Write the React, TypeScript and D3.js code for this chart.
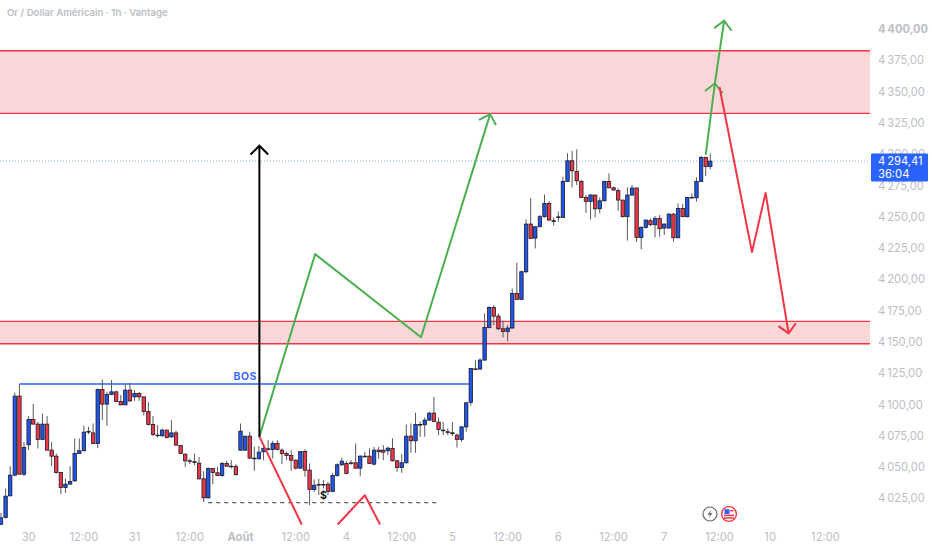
import React, { useEffect, useRef } from "react";
import * as d3 from "d3";

// open, high, low, close per hourly bar
const ohlc: number[][] = [
  [4004.2,4013.3,4003.4,4009.3],[4009.6,4032.7,4008.8,4026.6],[4026.9,4050.6,4026.6,4043.4],[4043.4,4109.5,4042.6,4106.6],
  [4106.6,4116.2,4044.2,4044.2],[4044.2,4070,4042.6,4065.5],[4067.7,4090.6,4063.4,4087.9],[4087.9,4100.2,4084.2,4084.2],
  [4084.2,4086,4064.7,4071.9],[4071.9,4092.7,4071.4,4084.2],[4084.2,4090.6,4063.4,4063.4],[4063.4,4070,4050.6,4058.6],
  [4058.6,4060.7,4044.7,4045.5],[4045.5,4045.5,4028.2,4033.5],[4033.5,4040.7,4029.3,4036.2],[4036.2,4050.6,4036.2,4038.4],
  [4038.9,4072.7,4038,4060.7],[4060.7,4072.7,4060.7,4062.9],[4062.9,4082.9,4062.9,4077.8],[4077.8,4082,4076.2,4078.3],
  [4077.2,4084.7,4068.2,4068.7],[4068.7,4112.7,4065,4111.9],[4111.9,4119.9,4087.4,4100.2],[4100.2,4110,4082.9,4107.9],
  [4107.9,4119.4,4107.4,4110],[4110,4110.8,4101.8,4102.3],[4102.3,4107.4,4099.4,4099.6],[4099.6,4116.2,4099.4,4111.4],
  [4111.4,4117.2,4102,4102.8],[4106,4111.4,4102.8,4108.7],[4108.7,4110,4102.8,4106],[4106,4106,4091.1,4094.3],
  [4094.3,4102,4083.1,4083.9],[4083.9,4090.6,4074.6,4075.9],[4075.4,4083.4,4073.5,4075],[4074.9,4080.7,4074,4079.4],
  [4079.4,4079.9,4072.7,4073.5],[4074,4087.4,4073.5,4077.2],[4077.2,4078.9,4067.1,4067.4],[4067.1,4067.1,4060.2,4060.7],
  [4060.2,4060.7,4050,4054.9],[4054.9,4056.7,4052.2,4054.4],[4054.2,4060.7,4051.4,4053.6],[4053,4058,4039.9,4040.5],
  [4040.5,4046.6,4022,4025.3],[4025.3,4049.5,4024.7,4048.7],[4048.7,4048.7,4036.2,4045.5],[4045.3,4050,4042.6,4043.1],
  [4043.1,4054,4042,4052.7],[4052.7,4054.9,4050,4050.6],[4050.6,4055.4,4048.7,4050.2],[4050.4,4052.2,4043.4,4043.7],
  [4063.4,4084.7,4062.9,4078.6],[4063.4,4074.6,4062.9,4074.6],[4074.6,4078.1,4056.5,4057],[4057,4066.1,4046.9,4056.5],
  [4056.5,4066.6,4056,4061.8],[4062.1,4067.4,4055.4,4064.8],[4064.5,4071.4,4062.9,4064],[4064,4070.9,4056.7,4068.8],
  [4068.8,4071.4,4063.4,4064],[4063.4,4064.8,4052.2,4060.8],[4060.8,4062.1,4055.4,4059.2],[4059.2,4063.4,4046.9,4055.4],
  [4055.4,4056,4048,4049],[4049,4062.4,4048.5,4062.4],[4062.4,4064,4042.1,4047.4],[4047.4,4052.8,4019.5,4032],
  [4032,4040,4030.1,4035.4],[4036,4040.5,4027.5,4035.5],[4036,4039.4,4032.8,4035.5],[4036.2,4038,4027.5,4030.4],
  [4030.4,4045.3,4029.8,4043.2],[4043.2,4052.8,4042.1,4051.7],[4051.7,4057.5,4050.6,4054.6],[4052.8,4054.6,4044.2,4044.8],
  [4053.3,4055.4,4051.7,4052.8],[4053.3,4068.8,4048.7,4049],[4049,4059.4,4042.6,4058.6],[4058.6,4062.1,4057.5,4058.1],
  [4058.6,4064.8,4052.2,4052.8],[4052.2,4066.1,4051.4,4063.4],[4063.4,4066.1,4056.5,4062.1],[4063.4,4067.4,4055.4,4061.8],
  [4062.9,4066.1,4059.4,4065],[4064.8,4072.8,4054.3,4054.9],[4054.9,4055.4,4046.1,4049.6],[4049.6,4060.2,4045.3,4053.3],
  [4053.3,4083.9,4052.8,4074.6],[4074.6,4084.7,4061.3,4070.9],[4070.9,4093.3,4061.3,4083.9],[4083.9,4086.1,4074.1,4083.4],
  [4083.7,4089.5,4074.1,4087.4],[4087.4,4094.1,4086.9,4093],[4093,4106,4086,4086.3],[4085.8,4089.5,4075.4,4080],
  [4079.4,4086,4075.4,4078.9],[4078.1,4080.7,4075.4,4077.6],[4077.3,4086,4074.6,4076.6],[4075.4,4076.7,4065.5,4071.9],
  [4071.9,4082.6,4070,4082],[4082,4102,4078.1,4101.2],[4101.5,4129,4099,4128.7],[4128.4,4135.4,4127.4,4128],
  [4128.2,4136.7,4127.9,4135.4],[4135.4,4172.7,4134.8,4161.5],[4161.5,4178.5,4160.7,4177.5],[4177.5,4179.3,4163.3,4170.5],
  [4170.5,4172.7,4159.3,4160.4],[4160.4,4166.8,4153.5,4158.3],[4158.3,4163.3,4150.3,4161],[4161,4192.6,4160.7,4188.7],
  [4188.7,4213.4,4183.9,4183.9],[4183.9,4206.8,4183.9,4206],[4206,4247.8,4204.7,4244.1],[4244.1,4264.9,4232.4,4232.6],
  [4232.9,4242,4224.6,4242],[4242,4251.3,4241.4,4250],[4250,4267.8,4249.4,4260.6],[4260.6,4262.5,4246.8,4247.3],
  [4246.8,4249.4,4242.8,4246.2],[4249.4,4254.2,4246,4249.9],[4249.4,4281.9,4249.2,4278.2],[4278.2,4300.6,4277.7,4294.7],
  [4294.7,4302.7,4273.4,4286.7],[4286.2,4303.8,4275.3,4278.7],[4278.2,4279.3,4264.9,4265.4],[4265.4,4267.3,4253.1,4262.2],
  [4262.2,4268,4247.8,4267.3],[4267.3,4267.3,4249.4,4256.3],[4256.3,4265.4,4252.6,4262.7],[4262.7,4278.7,4262.2,4278.2],
  [4278.2,4284.6,4272.6,4273.1],[4273.1,4273.9,4270.8,4271.3],[4270.8,4272.6,4254.7,4263.3],[4263.3,4263.3,4249.4,4250],
  [4250,4273.4,4230.8,4267.3],[4267.3,4275.3,4266.5,4272.9],[4272.9,4273.4,4229.7,4233.4],[4233.4,4242.5,4223.8,4241.4],
  [4241.4,4247.8,4240.6,4247.3],[4246.8,4248.6,4242.5,4243.6],[4243.6,4250.5,4233.4,4248.6],[4248.6,4251.3,4234,4240.4],
  [4240.9,4244.6,4235.3,4244.1],[4240.9,4253.1,4240.6,4252],[4252,4253.1,4230,4233.2],[4233.2,4260.6,4232.6,4256.6],
  [4256.6,4260.1,4250,4250],[4250,4265.9,4249.4,4265.4],[4265.4,4268.6,4264.6,4265],[4265.1,4281.4,4262,4278.2],
  [4278.2,4298.5,4277.9,4297.4],[4297.4,4297.9,4282.5,4290.2],[4290.2,4300.6,4287.8,4294.41],
];

const priceTicks = [4400, 4375, 4350, 4325, 4300, 4275, 4250, 4225, 4200, 4175, 4150, 4125, 4100, 4075, 4050, 4025];
const timeTicks: [number, string][] = [
  [6, "30"], [18, "12:00"], [29, "31"], [41, "12:00"], [52, "Août"], [64, "12:00"], [75, "4"], [87, "12:00"],
  [98, "5"], [110, "12:00"], [121, "6"], [133, "12:00"], [144, "7"], [156, "12:00"], [167, "10"], [179, "12:00"],
];

const zones = [[4382.6, 4332.6], [4166.3, 4148.4]];
const lastPrice = 4294.41;
const countdown = "36:04";
const bosPrice = 4116.2;
const sweepPrice = 4021.4;

// drawings: [bar index, price]; heads lists the vertices that carry an arrow head
const drawings: { color: string; points: number[][]; heads: number[] }[] = [
  { color: "#4caf50", points: [[56.1, 4074.2], [68.2, 4220.1], [91.2, 4153.7], [106.2, 4332]], heads: [3] },
  { color: "#4caf50", points: [[153, 4299.3], [155, 4356.6], [157, 4406.6]], heads: [1, 2] },
  { color: "#f23645", points: [[156, 4353.6], [163.05, 4221.7], [166, 4268.9], [171, 4156.7]], heads: [3] },
  { color: "#f23645", points: [[56.1, 4074.2], [65.3, 4004]], heads: [] },
  { color: "#f23645", points: [[73.1, 4004], [79, 4027.4], [82.3, 4004]], heads: [] },
  { color: "#000000", points: [[56.1, 4074.2], [56.1, 4306.7]], heads: [1] },
];

const BLUE = "#2962ff";
const AXIS_TEXT = "#bcbec5";
const FONT = "Inter, 'Noto Sans', sans-serif";

const priceLabel = (v: number, digits = 2) => {
  const s = v.toFixed(digits).replace(".", ",");
  return `${s[0]}\u2009${s.slice(1)}`;
};

export default function App() {
  const ref = useRef<SVGSVGElement>(null);

  useEffect(() => {
    if (!ref.current) return;
    const svg = d3.select(ref.current);
    svg.selectAll("*").remove();

    const plotRight = 870;
    const x = d3.scaleLinear().domain([0, 154]).range([1, 710.3]);
    const y = d3.scaleLinear().domain([4400, 4025]).range([29, 498.2]);

    // zones
    zones.forEach(([top, bottom]) => {
      svg.append("rect").attr("x", 0).attr("y", y(top)).attr("width", plotRight)
        .attr("height", y(bottom) - y(top)).attr("fill", "#f23645").attr("fill-opacity", 0.2);
      [top, bottom].forEach(p => {
        svg.append("line").attr("x1", 0).attr("x2", plotRight).attr("y1", y(p)).attr("y2", y(p))
          .attr("stroke", "#f23645").attr("stroke-width", 1.4);
      });
    });

    // last price line
    svg.append("line").attr("x1", 0).attr("x2", plotRight).attr("y1", y(lastPrice)).attr("y2", y(lastPrice))
      .attr("stroke", BLUE).attr("stroke-opacity", 0.55).attr("stroke-dasharray", "1 2");

    // BOS + sweep level
    svg.append("line").attr("x1", x(4)).attr("x2", x(101.7)).attr("y1", y(bosPrice)).attr("y2", y(bosPrice))
      .attr("stroke", BLUE).attr("stroke-width", 1.5);
    svg.append("text").attr("x", x(53)).attr("y", y(bosPrice) - 4).attr("text-anchor", "middle")
      .attr("fill", BLUE).attr("font-family", FONT).attr("font-size", 10.5).attr("font-weight", 600)
      .attr("letter-spacing", 0.4).text("BOS");
    svg.append("line").attr("x1", x(45)).attr("x2", x(95)).attr("y1", y(sweepPrice)).attr("y2", y(sweepPrice))
      .attr("stroke", "#333").attr("stroke-dasharray", "4 4");
    svg.append("text").attr("x", x(70)).attr("y", y(sweepPrice) - 4).attr("text-anchor", "middle")
      .attr("fill", "#111").attr("font-family", FONT).attr("font-size", 10.5).attr("font-weight", 700).text("$");

    // candles
    const candle = svg.append("g").selectAll("g").data(ohlc).join("g");
    candle.append("line")
      .attr("x1", (_, i) => x(i)).attr("x2", (_, i) => x(i))
      .attr("y1", d => y(d[1])).attr("y2", d => y(d[2]))
      .attr("stroke", "#5a5a5a").attr("stroke-width", 1);
    candle.append("rect")
      .attr("x", (_, i) => x(i) - 1.7).attr("width", 3.4)
      .attr("y", d => y(Math.max(d[0], d[3])))
      .attr("height", d => Math.max(0.6, Math.abs(y(d[0]) - y(d[3]))))
      .attr("fill", d => (d[3] >= d[0] ? "#1f55e8" : "#f23645"))
      .attr("stroke", "#1b1b2b").attr("stroke-width", 0.8);

    // drawings
    const line = d3.line<number[]>().x(d => x(d[0])).y(d => y(d[1]));
    drawings.forEach(d => {
      svg.append("path").attr("d", line(d.points)).attr("fill", "none")
        .attr("stroke", d.color).attr("stroke-width", 2).attr("stroke-linejoin", "round");
      d.heads.forEach(k => {
        const tip = [x(d.points[k][0]), y(d.points[k][1])];
        const prev = [x(d.points[k - 1][0]), y(d.points[k - 1][1])];
        const a = Math.atan2(prev[1] - tip[1], prev[0] - tip[0]);
        const size = 12.5;
        const wing = (s: number) => [tip[0] + size * Math.cos(a + s), tip[1] + size * Math.sin(a + s)];
        svg.append("path").attr("d", d3.line()([wing(Math.PI / 4), tip as [number, number], wing(-Math.PI / 4)] as [number, number][]))
          .attr("fill", "none").attr("stroke", d.color).attr("stroke-width", 2);
      });
    });

    // title
    svg.append("text").attr("x", 7).attr("y", 16).attr("fill", AXIS_TEXT).attr("font-family", FONT)
      .attr("font-size", 9.6).attr("font-weight", 600).text("Or / Dollar Américain · 1h · Vantage");

    // price axis
    svg.append("g").selectAll("text").data(priceTicks).join("text")
      .attr("x", 878).attr("y", d => y(d) + 4.2).attr("fill", AXIS_TEXT)
      .attr("font-family", FONT).attr("font-size", 11.2)
      .attr("font-weight", d => (d === 4400 ? 700 : 400))
      .text(d => priceLabel(d));

    // price label
    svg.append("rect").attr("x", 871).attr("y", y(lastPrice) - 7.7).attr("width", 57).attr("height", 28)
      .attr("fill", BLUE).attr("rx", 1);
    svg.append("text").attr("x", 878).attr("y", y(lastPrice) + 3.4).attr("fill", "#fff")
      .attr("font-family", FONT).attr("font-size", 11.2).text(priceLabel(lastPrice));
    svg.append("text").attr("x", 878).attr("y", y(lastPrice) + 16.4).attr("fill", "#fff")
      .attr("font-family", FONT).attr("font-size", 11.2).text(countdown);

    // time axis
    svg.append("g").selectAll("text").data(timeTicks).join("text")
      .attr("x", d => x(d[0])).attr("y", 541).attr("text-anchor", "middle").attr("fill", AXIS_TEXT)
      .attr("font-family", FONT).attr("font-size", 11.2)
      .attr("font-weight", d => (d[1] === "Août" ? 700 : 400))
      .text(d => d[1]);

    // event icons
    const bolt = svg.append("g").attr("transform", "translate(710,514)");
    bolt.append("circle").attr("r", 7).attr("fill", "#fff").attr("stroke", "#6a6a6a").attr("stroke-width", 1.2);
    bolt.append("path").attr("d", "M1.5,-4 L-2.5,0.8 L0,0.8 L-1.5,4 L2.5,-0.8 L0,-0.8 Z").attr("fill", "#5a5a5a");
    const flag = svg.append("g").attr("transform", "translate(729,514)");
    flag.append("circle").attr("r", 7.4).attr("fill", "#fff").attr("stroke", "#f23645").attr("stroke-width", 1.4);
    [0.6, 3.2].forEach(sy => {
      flag.append("rect").attr("x", -5).attr("y", sy).attr("width", 10).attr("height", 1.5).attr("fill", "#f23645");
    });
    flag.append("rect").attr("x", -4.5).attr("y", -4.8).attr("width", 5).attr("height", 4.8).attr("fill", BLUE);
    flag.append("rect").attr("x", 1).attr("y", -4).attr("width", 3.6).attr("height", 1.4).attr("fill", "#f23645");
  }, []);

  return (
    <svg ref={ref} width={932} height={550}
      style={{ position: "absolute", left: 0, top: 0, background: "#fff", display: "block" }} />
  );
}
